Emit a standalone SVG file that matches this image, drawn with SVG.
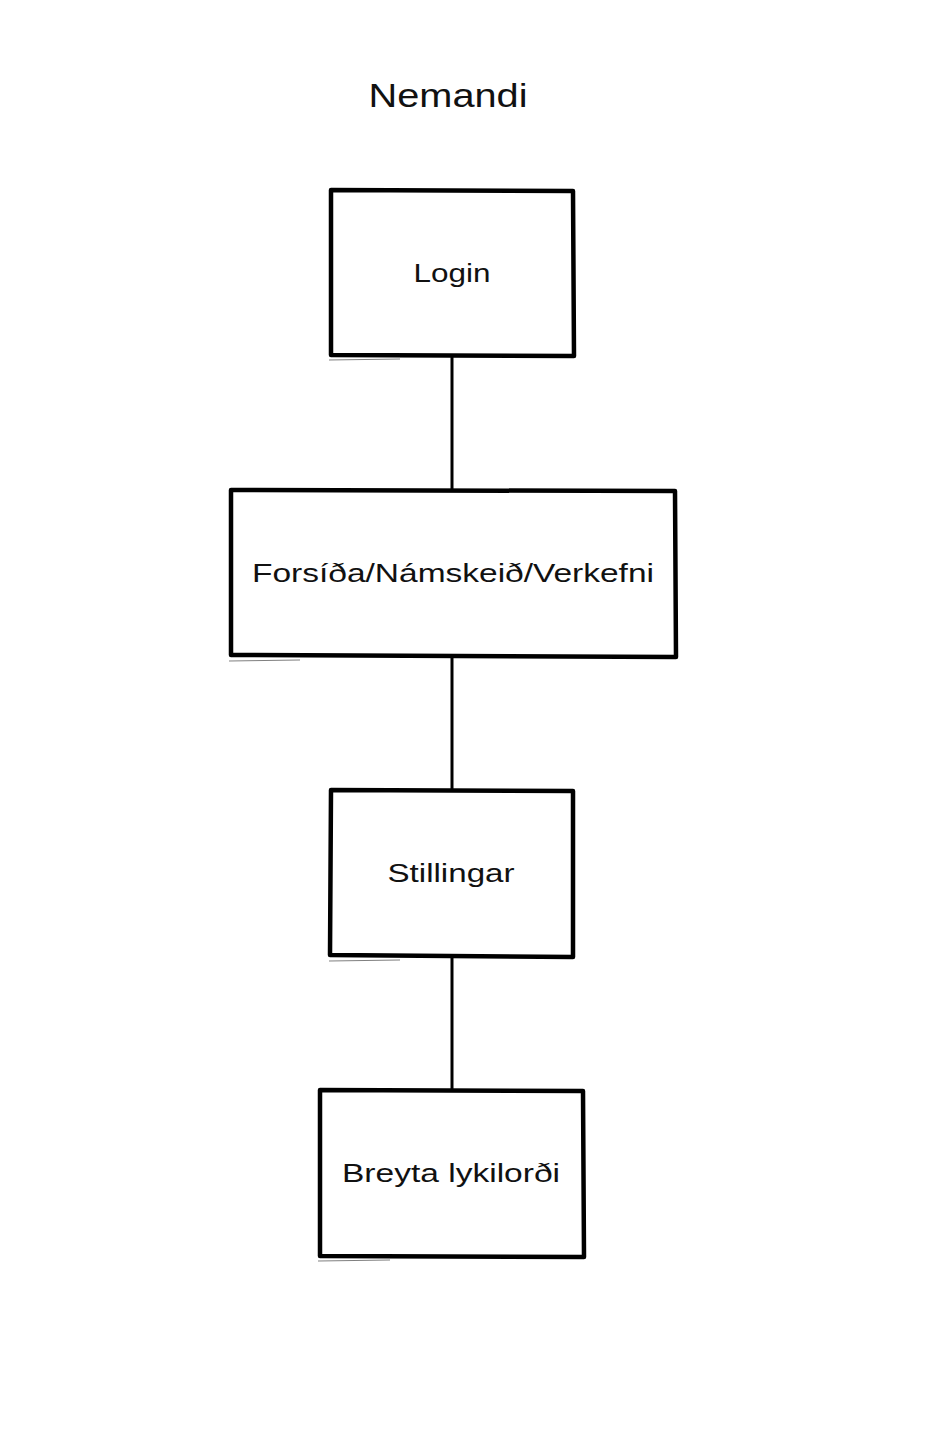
<svg xmlns="http://www.w3.org/2000/svg" width="927" height="1439" viewBox="0 0 927 1439">
<style>
.box{fill:#fff;stroke:#000;stroke-width:4.5;stroke-linejoin:round}
.ghost{fill:none;stroke:#000;stroke-width:1;opacity:0.5}
.conn{stroke:#000;stroke-width:3;fill:none}
.lbl{font-family:"Liberation Sans",Arial,sans-serif;font-size:26px;fill:#111;text-anchor:middle}
.title{font-family:"Liberation Sans",Arial,sans-serif;font-size:33px;fill:#111;text-anchor:middle}
</style>
<rect width="927" height="1439" fill="#fff"/>
<text id="title" class="title" x="448" y="107" textLength="159" lengthAdjust="spacingAndGlyphs">Nemandi</text>
<g id="connectors">
<line class="conn" x1="452" y1="357" x2="452" y2="490"/>
<line class="conn" x1="452" y1="657" x2="452" y2="790"/>
<line class="conn" x1="452" y1="957" x2="452" y2="1090"/>
</g>
<g id="node-login">
<path class="box" d="M331 190 L573 191 L574 356 L331 355 Z"/>
<path class="ghost" d="M329 360 L400 359"/>
<text class="lbl" x="452" y="282" textLength="77" lengthAdjust="spacingAndGlyphs">Login</text>
</g>
<g id="node-forsida">
<path class="box" d="M231 490 L675 491 L676 657 L231 655 Z"/>
<path class="ghost" d="M229 661 L300 660"/>
<text class="lbl" x="453" y="582" textLength="402" lengthAdjust="spacingAndGlyphs">Forsíða/Námskeið/Verkefni</text>
</g>
<g id="node-stillingar">
<path class="box" d="M331 790 L573 791 L573 957 L330 955 Z"/>
<path class="ghost" d="M329 961 L400 960"/>
<text class="lbl" x="451" y="882" textLength="127" lengthAdjust="spacingAndGlyphs">Stillingar</text>
</g>
<g id="node-breyta">
<path class="box" d="M320 1090 L583 1091 L584 1257 L320 1256 Z"/>
<path class="ghost" d="M318 1261 L390 1260"/>
<text class="lbl" x="451" y="1182" textLength="218" lengthAdjust="spacingAndGlyphs">Breyta lykilorði</text>
</g>
</svg>
